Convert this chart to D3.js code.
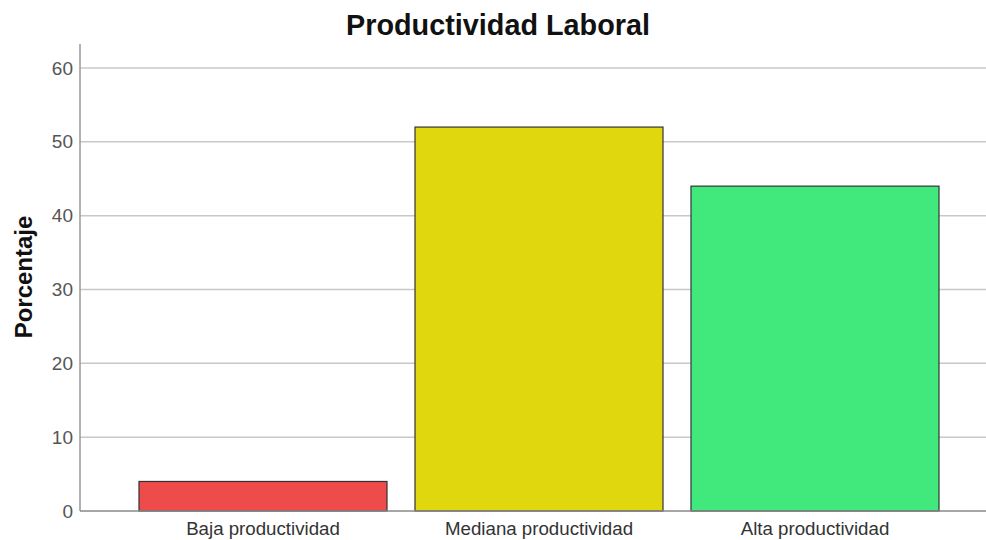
<!DOCTYPE html>
<html><head><meta charset="utf-8">
<script src="https://cdn.jsdelivr.net/npm/d3@7"></script>
<style>body{margin:0;background:#fff}svg{display:block}</style>
</head><body>
<svg id="c" width="986" height="540"></svg>
<script>
const categories = ["Baja productividad", "Mediana productividad", "Alta productividad"];
const values = [4, 52, 44];
const colors = ["#EE4B4B", "#E1D70F", "#41E87C"];
const yTicks = [0, 10, 20, 30, 40, 50, 60];
const title = "Productividad Laboral";
const yTitle = "Porcentaje";

const svg = d3.select("#c");
const font = "'Liberation Sans', Arial, sans-serif";
const x0 = 80, x1 = 986, yTop = 44, yBottom = 511;
const y = d3.scaleLinear().domain([0, 60]).range([yBottom, 68]);
const x = d3.scaleBand().domain(categories).range([125, 953]).paddingInner(28/276).paddingOuter(14/276);

// gridlines
svg.append("g").selectAll("line").data(yTicks.filter(d => d > 0)).join("line")
  .attr("x1", x0).attr("x2", x1).attr("y1", d => y(d)).attr("y2", d => y(d))
  .attr("stroke", "#c8c8c8").attr("stroke-width", 1.5);

// y axis
const yAxis = d3.axisLeft(y).tickValues(yTicks).tickSize(0).tickPadding(7);
const gy = svg.append("g").attr("transform", `translate(${x0},0)`).call(yAxis);
gy.select(".domain").remove();
gy.selectAll("text").attr("font-family", font).attr("font-size", 19).attr("fill", "#555");
svg.append("line").attr("x1", x0).attr("x2", x0).attr("y1", yTop).attr("y2", yBottom)
  .attr("stroke", "#999").attr("stroke-width", 1.5);

// bars
svg.append("g").selectAll("rect").data(values).join("rect")
  .attr("x", (d, i) => x(categories[i]))
  .attr("width", x.bandwidth())
  .attr("y", d => y(d))
  .attr("height", d => yBottom - y(d))
  .attr("fill", (d, i) => colors[i])
  .attr("stroke", "#333").attr("stroke-width", 1.2);

// x axis line
svg.append("line").attr("x1", x0).attr("x2", x1).attr("y1", yBottom).attr("y2", yBottom)
  .attr("stroke", "#888").attr("stroke-width", 1.5);

const xAxis = d3.axisBottom(x).tickSize(0).tickPadding(11);
const gx = svg.append("g").attr("transform", `translate(0,${yBottom})`).call(xAxis);
gx.select(".domain").remove();
gx.selectAll("text").attr("font-family", font).attr("font-size", 18.7).attr("fill", "#333");

// titles
svg.append("text").attr("x", 498).attr("y", 35).attr("text-anchor", "middle")
  .attr("font-family", font).attr("font-size", 28.8).attr("font-weight", "bold").attr("fill", "#111")
  .text(title);
svg.append("text").attr("transform", "translate(32,277) rotate(-90)").attr("text-anchor", "middle")
  .attr("font-family", font).attr("font-size", 24).attr("font-weight", "bold").attr("fill", "#111")
  .text(yTitle);
</script>
</body></html>
